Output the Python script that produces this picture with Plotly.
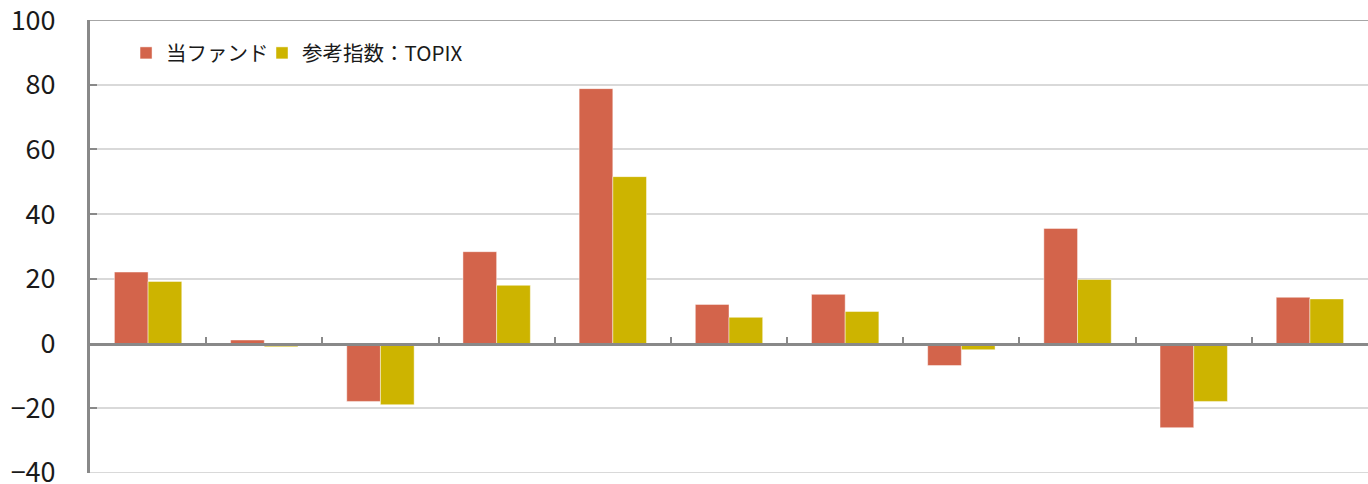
import plotly.graph_objects as go

categories = list(range(11))
fund = [22.1, 1.1, -17.9, 28.4, 78.8, 12.1, 15.2, -6.8, 35.6, -26.0, 14.3]
topix = [19.2, -1.0, -18.9, 18.0, 51.6, 8.1, 9.9, -1.9, 19.8, -17.9, 13.8]
series_names = ["当ファンド", "参考指数：TOPIX"]
y_ticks = [-40, -20, 0, 20, 40, 60, 80, 100]
x_bounds = [i - 0.5 for i in range(12)]

RED = "#D3644B"
YEL = "#CDB400"
FONT = "Noto Sans CJK JP"

fig = go.Figure()
fig.add_trace(go.Bar(x=categories, y=fund, name=series_names[0], legend="legend",
                     marker=dict(color=RED, line=dict(color="rgba(255,255,255,0.45)", width=1))))
fig.add_trace(go.Bar(x=categories, y=topix, name=series_names[1], legend="legend2",
                     marker=dict(color=YEL, line=dict(color="rgba(255,255,255,0.45)", width=1))))

legend_common = dict(orientation="h", xanchor="left", y=0.927, yanchor="middle",
                     font=dict(size=20.5, family=FONT, color="#1a1a1a"),
                     bgcolor="rgba(0,0,0,0)", itemwidth=30)

fig.update_layout(
    width=1368, height=484,
    margin=dict(l=90, r=0, t=20, b=11, autoexpand=False),
    paper_bgcolor="white", plot_bgcolor="white",
    barmode="group", bargap=0.42, bargroupgap=0,
    font=dict(family=FONT, color="#1a1a1a"),
    showlegend=True,
    legend=dict(x=0.0282, **legend_common),
    legend2=dict(x=0.1346, **legend_common),
    xaxis=dict(range=[-0.5, 10.5], tickmode="array", tickvals=x_bounds, showticklabels=False,
               ticks="inside", ticklen=6, tickwidth=2, tickcolor="#898989",
               showline=True, linecolor="#898989", linewidth=3, automargin=False,
               anchor="free", position=40 / 140, showgrid=False, zeroline=False),
    yaxis=dict(range=[-40.02, 100.02], tickmode="array", tickvals=y_ticks,
               ticks="inside", ticklen=7, tickwidth=2, tickcolor="#898989",
               showline=True, linecolor="#898989", linewidth=3, automargin=False,
               showgrid=True, gridcolor="#d9d9d9", gridwidth=1.5,
               zeroline=False, ticklabelstandoff=26, ticklabeloverflow="allow",
               tickfont=dict(size=27, family=FONT, color="#1a1a1a")),
)
fig.add_shape(type="line", xref="paper", yref="y", x0=0, x1=1, y0=100, y1=100,
              line=dict(color="#a6a6a6", width=2), layer="below")
fig.add_shape(type="line", xref="paper", yref="y", x0=0, x1=1, y0=-40, y1=-40,
              line=dict(color="#d9d9d9", width=2), layer="below")

fig.write_html("out.html")
